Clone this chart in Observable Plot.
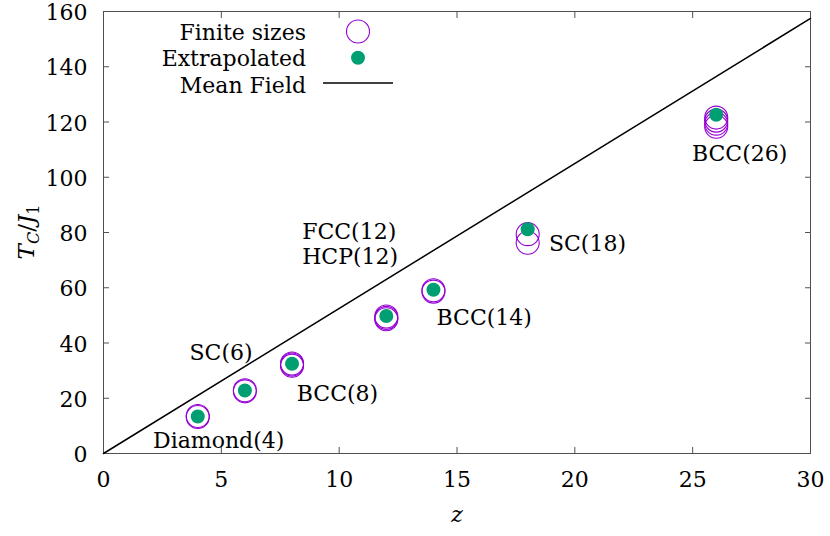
<!DOCTYPE html>
<html>
<head>
<meta charset="utf-8">
<script src="https://cdn.jsdelivr.net/npm/d3@7"></script>
<script src="https://cdn.jsdelivr.net/npm/@observablehq/plot@0.6"></script>
<style>
  html, body { margin: 0; padding: 0; background: #fff; }
  #chart svg { display: block; }
  #chart svg, #chart svg text, #chart svg tspan { font-family: "DejaVu Serif" !important; }
</style>
</head>
<body>
<div id="chart"></div>
<script>
// ---- data ----
const finiteZ = [4, 4, 6, 6, 8, 8, 8, 12, 12, 12, 14, 14, 18, 18, 26, 26, 26, 26];
const finiteT = [13.2, 13.6, 22.5, 22.9, 31.8, 32.2, 32.6, 48.6, 49.1, 49.6, 58.6, 59.1, 76.3, 79.4, 118.3, 119.4, 120.5, 121.6];
const extrapZ = [4, 6, 8, 12, 14, 18, 26];
const extrapT = [13.4, 22.8, 32.5, 49.8, 59.3, 81.2, 122.6];
const meanFieldZ = [0, 30];
const meanFieldT = [0, 157.5];
const annotText = ["Diamond(4)", "SC(6)", "BCC(8)", "FCC(12)", "HCP(12)", "BCC(14)", "SC(18)", "BCC(26)"];
const annotZ = [2.1, 3.65, 8.2, 8.43, 8.43, 14.13, 18.9, 24.97];
const annotT = [4.4, 36.4, 21.4, 80.1, 71.0, 49.0, 75.7, 108.5];
const xTicks = [0, 5, 10, 15, 20, 25, 30];
const yTicks = [0, 20, 40, 60, 80, 100, 120, 140, 160];
const legendLabels = ["Finite sizes", "Extrapolated", "Mean Field"];

const finite = finiteZ.map((z, i) => ({z, T: finiteT[i]}));
const extrap = extrapZ.map((z, i) => ({z, T: extrapT[i]}));
const meanField = meanFieldZ.map((z, i) => ({z, T: meanFieldT[i]}));
const annots = annotText.map((t, i) => ({t, z: annotZ[i], T: annotT[i]}));

const FONT = "DejaVu Serif";
const PURPLE = "#9400d3";
const GREEN = "#009e73";
const FRAME = "#505050";
const FS = 22;

const chart = Plot.plot({
  width: 830,
  height: 536,
  marginLeft: 103,
  marginRight: 20,
  marginTop: 11,
  marginBottom: 83,
  style: {fontFamily: FONT, fontSize: FS + "px", background: "#fff", color: "#000", overflow: "visible"},
  x: {domain: [0, 30]},
  y: {domain: [0, 160]},
  marks: [
    Plot.frame({stroke: FRAME, strokeWidth: 1}),
    // tick labels
    Plot.axisX({ticks: xTicks, tickSize: 0, tickPadding: 18, label: null, fontSize: FS, tickFormat: d => String(d)}),
    Plot.axisY({ticks: yTicks, tickSize: 0, tickPadding: 16, label: null, fontSize: FS, dy: 1.5, tickFormat: d => String(d)}),
    // inward ticks on all four sides
    Plot.axisX({anchor: "bottom", ticks: xTicks, tickSize: -6, tickFormat: () => "", label: null, stroke: FRAME}),
    Plot.axisX({anchor: "top", ticks: xTicks, tickSize: -6, tickFormat: () => "", label: null, stroke: FRAME}),
    Plot.axisY({anchor: "left", ticks: yTicks, tickSize: -6, tickFormat: () => "", label: null, stroke: FRAME}),
    Plot.axisY({anchor: "right", ticks: yTicks, tickSize: -6, tickFormat: () => "", label: null, stroke: FRAME}),
    // mean field line
    Plot.line(meanField, {x: "z", y: "T", stroke: "#000", strokeWidth: 1.5}),
    // finite sizes
    Plot.dot(finite, {x: "z", y: "T", r: 11.5, stroke: PURPLE, strokeWidth: 1.1, fill: "none"}),
    // extrapolated
    Plot.dot(extrap, {x: "z", y: "T", r: 7, fill: GREEN, stroke: "none"}),
    // annotations
    Plot.text(annots, {x: "z", y: "T", text: "t", textAnchor: "start", lineAnchor: "middle", fontSize: FS, fill: "#000"}),
    // x label
    Plot.text(["z"], {frameAnchor: "bottom", dy: 68, fontStyle: "italic", fontSize: FS, fill: "#000"})
  ]
});

document.getElementById("chart").appendChild(chart);

const svg = d3.select(chart);
// y-axis label with subscripts
const yl = svg.append("text")
  .attr("transform", "translate(34,232) rotate(-90)")
  .attr("text-anchor", "middle")
  .attr("font-family", FONT)
  .attr("font-size", 23)
  .attr("fill", "#000");
yl.append("tspan").attr("font-style", "italic").text("T");
yl.append("tspan").attr("font-style", "italic").attr("font-size", 16).attr("dy", 5).text("C");
yl.append("tspan").attr("dy", -5).text("/");
yl.append("tspan").attr("font-style", "italic").text("J");
yl.append("tspan").attr("font-size", 16).attr("dy", 5).text("1");

// legend
const lg = svg.append("g").attr("font-family", FONT).attr("font-size", FS).attr("fill", "#000");
const legendY = [33, 59, 86];
legendLabels.forEach((label, i) => {
  lg.append("text").attr("x", 306).attr("y", legendY[i]).attr("dy", "0.32em")
    .attr("text-anchor", "end").text(label);
});
lg.append("circle").attr("cx", 358).attr("cy", 31.5).attr("r", 11.5)
  .attr("fill", "none").attr("stroke", PURPLE).attr("stroke-width", 1.1);
lg.append("circle").attr("cx", 358).attr("cy", 57.7).attr("r", 7).attr("fill", GREEN);
lg.append("line").attr("x1", 323).attr("x2", 393).attr("y1", 83).attr("y2", 83)
  .attr("stroke", "#000").attr("stroke-width", 1.5);
</script>
</body>
</html>
